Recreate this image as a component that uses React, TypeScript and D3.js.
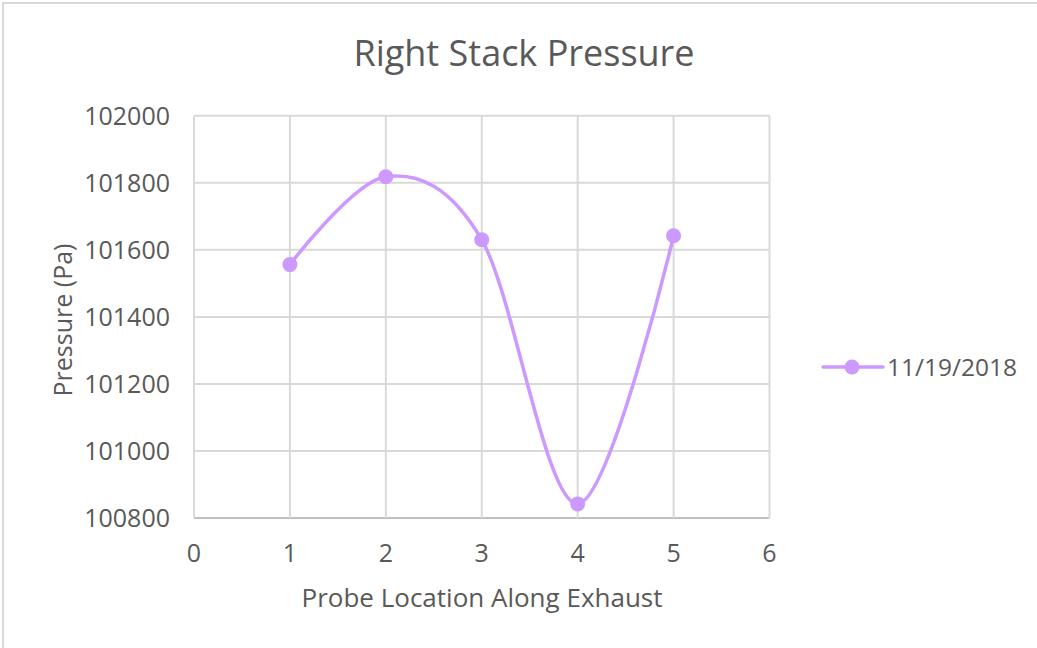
import React from "react";
import * as d3 from "d3";

// Probe positions along the right exhaust stack and measured pressures (Pa)
const probeLocations = [1, 2, 3, 4, 5];
const pressures = [101556, 101818, 101630, 100842, 101642];
const seriesName = "11/19/2018";
const xTicks = [0, 1, 2, 3, 4, 5, 6];
const yTicks = [100800, 101000, 101200, 101400, 101600, 101800, 102000];

const W = 1037;
const H = 648;
const plot = { left: 194, right: 769.5, top: 115.8, bottom: 518 };
const textColor = "#595959";
const gridColor = "#d9d9d9";
const seriesColor = "#cc99ff";
const font = "'Open Sans', 'Noto Sans', sans-serif";

export default function App() {
  const x = d3.scaleLinear().domain([0, 6]).range([plot.left, plot.right]);
  const y = d3.scaleLinear().domain([100800, 102000]).range([plot.bottom, plot.top]);

  const pts: [number, number][] = probeLocations.map((p, i) => [x(p), y(pressures[i])]);
  const line = d3.line().curve(d3.curveCatmullRom.alpha(0))(pts) || "";

  return (
    <svg
      width={W}
      height={H}
      style={{ position: "absolute", left: 0, top: 0, background: "#fff" }}
      fontFamily={font}
    >
      {/* chart frame */}
      <path d={`M3,${H} V3 H${W}`} fill="none" stroke={gridColor} strokeWidth={2} />

      <text x={524} y={66} textAnchor="middle" fontSize={36} fill={textColor}>
        Right Stack Pressure
      </text>

      {/* horizontal gridlines */}
      {yTicks.map((t) => (
        <line
          key={"h" + t}
          x1={plot.left}
          x2={plot.right}
          y1={y(t)}
          y2={y(t)}
          stroke={t === 100800 ? "#bfbfbf" : gridColor}
          strokeWidth={2}
        />
      ))}
      {/* vertical gridlines */}
      {xTicks.map((t) => (
        <line
          key={"v" + t}
          x1={x(t)}
          x2={x(t)}
          y1={plot.top}
          y2={plot.bottom}
          stroke={gridColor}
          strokeWidth={2}
        />
      ))}

      {yTicks.map((t) => (
        <text
          key={"yl" + t}
          x={170}
          y={y(t)}
          dy="0.36em"
          textAnchor="end"
          fontSize={25}
          fill={textColor}
        >
          {t}
        </text>
      ))}
      {xTicks.map((t) => (
        <text
          key={"xl" + t}
          x={x(t)}
          y={562}
          textAnchor="middle"
          fontSize={25}
          fill={textColor}
        >
          {t}
        </text>
      ))}

      <text x={482} y={607} textAnchor="middle" fontSize={26} fill={textColor}>
        Probe Location Along Exhaust
      </text>
      <text
        transform="translate(72,320) rotate(-90)"
        textAnchor="middle"
        fontSize={25}
        fill={textColor}
      >
        Pressure (Pa)
      </text>

      {/* series */}
      <path d={line} fill="none" stroke={seriesColor} strokeWidth={3.5} strokeLinecap="round" />
      {pts.map(([px, py], i) => (
        <circle key={"p" + i} cx={px} cy={py} r={7.5} fill={seriesColor} />
      ))}

      {/* legend */}
      <line x1={823} x2={883} y1={367} y2={367} stroke={seriesColor} strokeWidth={3.5} strokeLinecap="round" />
      <circle cx={852} cy={367} r={7.5} fill={seriesColor} />
      <text x={887} y={367} dy="0.36em" fontSize={24.5} fill={textColor}>
        {seriesName}
      </text>
    </svg>
  );
}
